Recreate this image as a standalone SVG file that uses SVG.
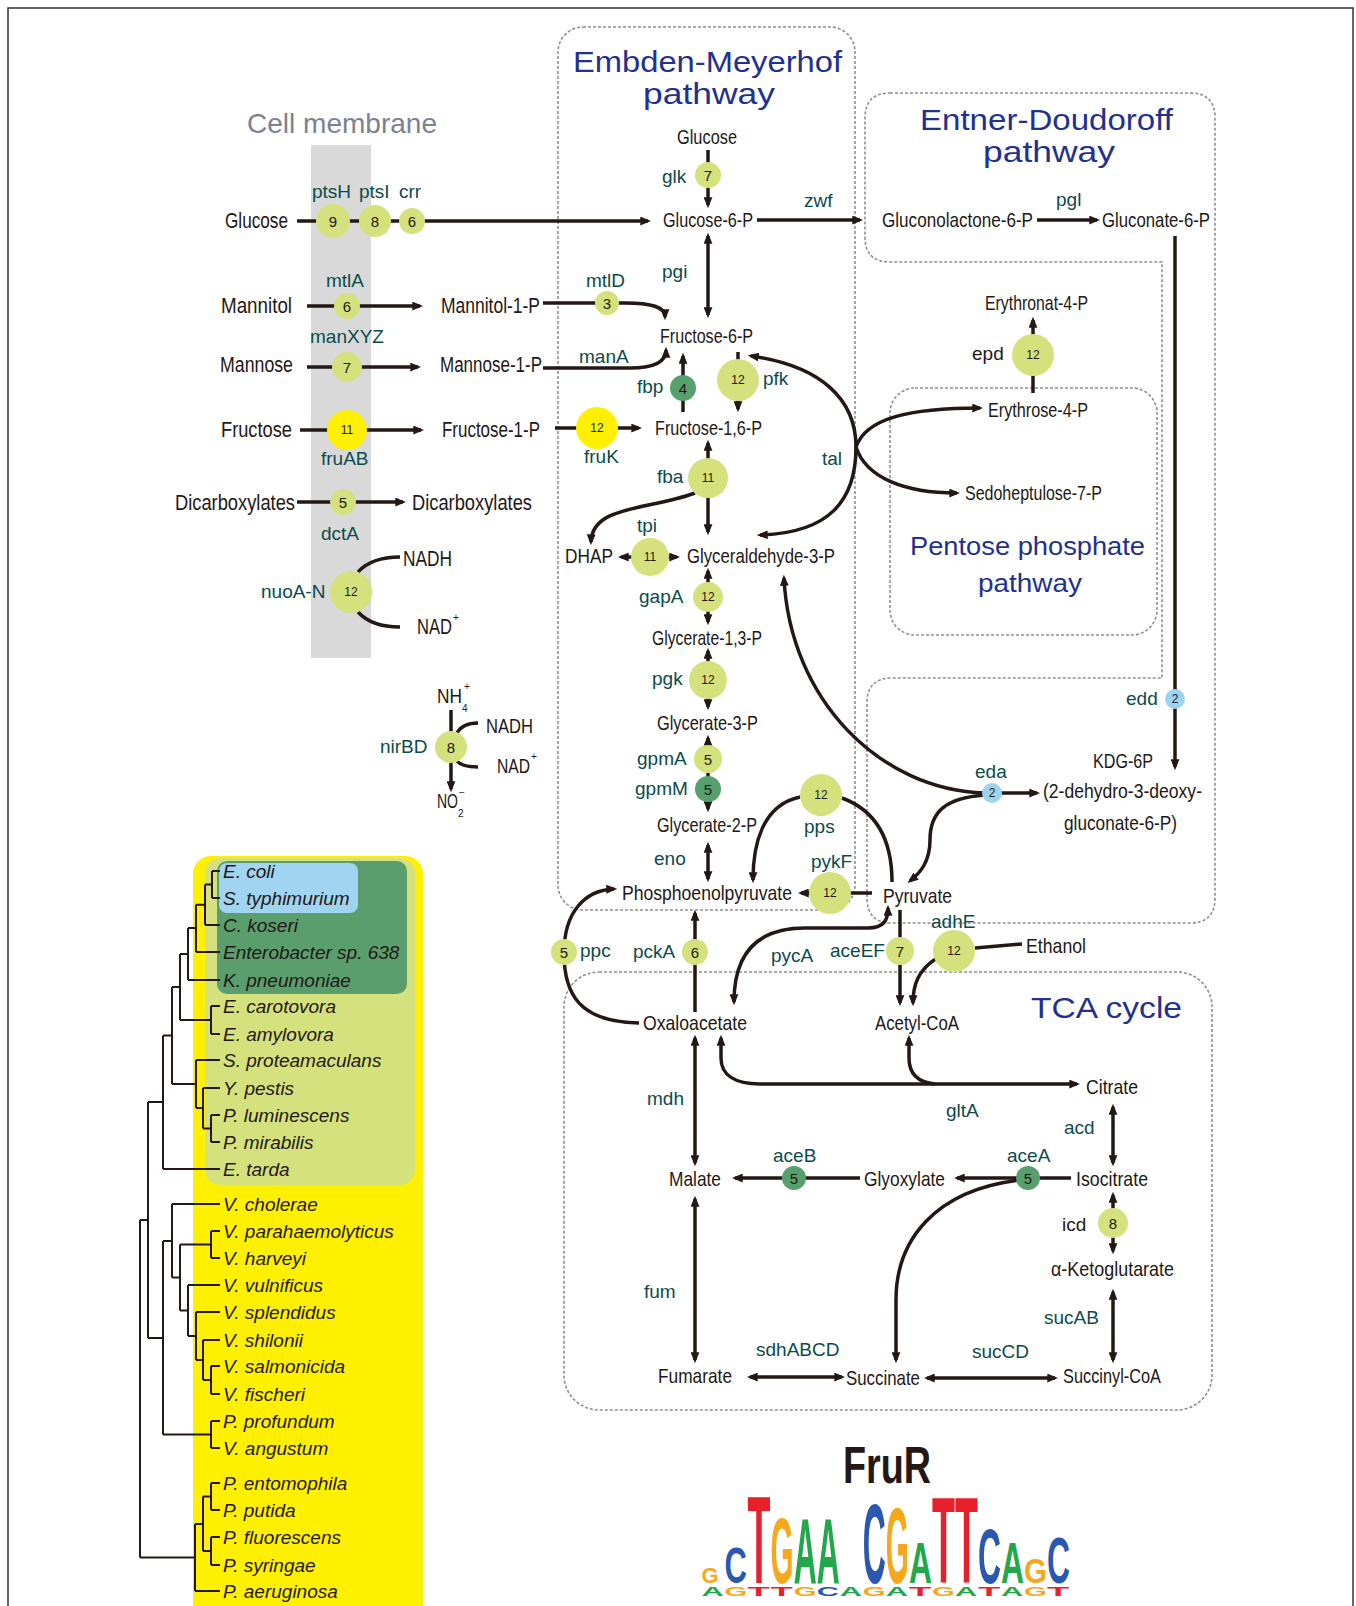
<svg xmlns="http://www.w3.org/2000/svg" width="1356" height="1606" viewBox="0 0 1356 1606">
<style>
.m{font-family:"Liberation Sans",Arial,sans-serif;font-size:21px;fill:#231815}
.ml{font-family:"Liberation Sans",Arial,sans-serif;font-size:22px;fill:#231815}
.sm{font-family:"Liberation Sans",Arial,sans-serif;font-size:10px;fill:#231815}
.g{font-family:"Liberation Sans",Arial,sans-serif;font-size:19px;fill:#0c4b4b}
.gk{font-family:"Liberation Sans",Arial,sans-serif;font-size:19px;fill:#231815}
.t{font-family:"Liberation Sans",Arial,sans-serif;fill:#22308e}
.sp{font-family:"Liberation Sans",Arial,sans-serif;font-style:italic;font-size:19px;fill:#231815}
.n{font-family:"Liberation Sans",Arial,sans-serif;font-size:15px;text-anchor:middle;fill:#231815}
.n2{font-family:"Liberation Sans",Arial,sans-serif;font-size:12px;text-anchor:middle;fill:#231815}
.lg{fill:#d5e17c}.yl{fill:#fff000}.dg{fill:#55a06c}.bl{fill:#9bd3f0}
.box{fill:none;stroke:#8f8f8f;stroke-width:1.6;stroke-dasharray:3 2}
.c{fill:none;stroke:#231815;stroke-width:3.5}
.a{marker-end:url(#ah)}
.b{marker-start:url(#ah);marker-end:url(#ah)}
.tr{fill:none;stroke:#231815;stroke-width:2}
.lo{font-family:"Liberation Sans",Arial,sans-serif;font-weight:bold;font-size:20px}
.ls{font-family:"Liberation Sans",Arial,sans-serif;font-weight:bold;font-size:14px}
.lT{fill:#e8202a}.lG{fill:#f6a71b}.lA{fill:#22a84a}.lC{fill:#2a57b0}
</style>
<defs>
<marker id="ah" viewBox="0 0 10 8" refX="7" refY="4" markerWidth="11" markerHeight="9" markerUnits="userSpaceOnUse" orient="auto-start-reverse"><path d="M0,0 L10,4 L0,8 z" fill="#231815"/></marker>
</defs>
<rect width="1356" height="1606" fill="#fff"/>
<rect x="8" y="8" width="1345" height="1620" fill="none" stroke="#333" stroke-width="1.5"/>

<!-- backgrounds -->
<rect x="311" y="145" width="60" height="513" fill="#d9d9d9"/>
<text class="t" x="247" y="133" font-size="28" textLength="190" lengthAdjust="spacingAndGlyphs" style="fill:#7d8190">Cell membrane</text>

<g id="emp-box">
<rect class="box" x="558" y="27" width="297" height="883" rx="25"/>
<text class="t" x="573" y="72" font-size="29" textLength="269" lengthAdjust="spacingAndGlyphs">Embden-Meyerhof</text>
<text class="t" x="643" y="104" font-size="29" textLength="132" lengthAdjust="spacingAndGlyphs">pathway</text>
</g>
<g id="ed-box">
<path class="box" d="M890,93 H1190 Q1215,93 1215,118 V898 Q1215,923 1190,923 H892 Q867,923 867,898 V703 Q867,678 892,678 H1162 V262 H890 Q865,262 865,237 V118 Q865,93 890,93 Z"/>
<text class="t" x="920" y="130" font-size="29" textLength="253" lengthAdjust="spacingAndGlyphs">Entner-Doudoroff</text>
<text class="t" x="983" y="162" font-size="29" textLength="132" lengthAdjust="spacingAndGlyphs">pathway</text>
</g>
<g id="ppp-box">
<rect class="box" x="890" y="388" width="267" height="247" rx="25"/>
<text class="t" x="910" y="555" font-size="26" textLength="235" lengthAdjust="spacingAndGlyphs">Pentose phosphate</text>
<text class="t" x="978" y="592" font-size="26" textLength="104" lengthAdjust="spacingAndGlyphs">pathway</text>
</g>
<g id="tca-box">
<rect class="box" x="564" y="972" width="648" height="438" rx="35"/>
<text class="t" x="1031" y="1018" font-size="30" textLength="151" lengthAdjust="spacingAndGlyphs">TCA cycle</text>
</g>

<!-- connectors -->
<g id="connectors">
<path class="c a" d="M297,221 H648"/>
<path class="c a" d="M708,150 V205"/>
<path class="c a" d="M757,220 H860"/>
<path class="c b" d="M708,236 V315"/>
<path class="c a" d="M307,306 H420"/>
<path class="c a" d="M307,367 H418"/>
<path class="c a" d="M300,430 H421"/>
<path class="c a" d="M297,502 H403"/>
<path class="c a" d="M543,303 H625 C652,303 665,307 665,317"/>
<path class="c a" d="M543,368 H630 C655,368 666,362 666,350"/>
<path class="c a" d="M683,412 V356"/>
<path class="c a" d="M738,352 V409"/>
<path class="c a" d="M555,428 H639"/>
<path class="c b" d="M708,443 V532"/>
<path class="c a" d="M695,493 C650,510 592,505 591,542"/>
<path class="c b" d="M621,557 H677"/>
<path class="c b" d="M760,535 C830,533 856,500 856,447 C856,400 822,366 751,356"/>
<path class="c a" d="M856,447 C866,418 910,408 980,408"/>
<path class="c a" d="M856,447 C866,478 905,493 957,493"/>
<path class="c a" d="M1033,393 V320"/>
<path class="c a" d="M1037,220 H1097"/>
<path class="c a" d="M1175,236 V767"/>
<path class="c a" d="M992,793 H1037"/>
<path class="c a" d="M985,793 C880,790 790,700 784,578"/>
<path class="c a" d="M985,795 C945,798 930,812 930,840 C930,862 920,873 910,881"/>
<path class="c b" d="M708,571 V622"/>
<path class="c b" d="M708,651 V707"/>
<path class="c b" d="M708,738 V809"/>
<path class="c b" d="M708,845 V879"/>
<path class="c a" d="M800,797 C762,805 753,845 753,880"/>
<path class="c" d="M842,798 C880,812 892,845 892,882"/>
<path class="c a" d="M872,893 H801"/>
<path class="c a" d="M639,1023 C580,1022 564,995 564,953 C564,912 585,890 614,889"/>
<path class="c a" d="M695,1012 V913"/>
<path class="c b" d="M734,1002 C734,950 760,928 805,928 H868 C884,928 888,920 888,908"/>
<path class="c a" d="M900,910 V1003"/>
<path class="c" d="M1022,944 L975,948"/>
<path class="c a" d="M937,958 C918,970 913,985 913,1003"/>
<path class="c b" d="M721,1038 V1058 C721,1075 735,1084 760,1084 H1077"/>
<path class="c a" d="M935,1084 C914,1082 909,1070 909,1058 V1038"/>
<path class="c b" d="M695,1038 V1163"/>
<path class="c b" d="M1113,1107 V1163"/>
<path class="c a" d="M1071,1178 H957"/>
<path class="c a" d="M860,1178 H735"/>
<path class="c a" d="M1020,1180 C935,1190 896,1240 896,1300 V1360"/>
<path class="c b" d="M1113,1195 V1251"/>
<path class="c b" d="M695,1199 V1360"/>
<path class="c b" d="M750,1377 H842"/>
<path class="c b" d="M927,1378 H1055"/>
<path class="c b" d="M1113,1292 V1360"/>
<path class="c" stroke-width="4" d="M358,572 C368,561 383,557 400,557"/>
<path class="c" stroke-width="4" d="M358,612 C368,623 383,627 400,627"/>
<path class="c a" d="M451,710 V789"/>
<path class="c" d="M457,733 C461,726 469,723 478,723"/>
<path class="c" d="M457,761 C461,766 469,767 478,767"/>
</g>

<!-- metabolites -->
<g id="glucose-ext"><text class="ml" x="225" y="228" textLength="63" lengthAdjust="spacingAndGlyphs">Glucose</text></g>
<g id="mannitol"><text class="ml" x="221" y="313" textLength="71" lengthAdjust="spacingAndGlyphs">Mannitol</text></g>
<g id="mannitol-1-p"><text class="ml" x="441" y="313" textLength="99" lengthAdjust="spacingAndGlyphs">Mannitol-1-P</text></g>
<g id="mannose"><text class="ml" x="220" y="372" textLength="73" lengthAdjust="spacingAndGlyphs">Mannose</text></g>
<g id="mannose-1-p"><text class="ml" x="440" y="372" textLength="102" lengthAdjust="spacingAndGlyphs">Mannose-1-P</text></g>
<g id="fructose"><text class="ml" x="221" y="437" textLength="71" lengthAdjust="spacingAndGlyphs">Fructose</text></g>
<g id="fructose-1-p"><text class="ml" x="442" y="437" textLength="98" lengthAdjust="spacingAndGlyphs">Fructose-1-P</text></g>
<g id="dicarb-ext"><text class="ml" x="175" y="510" textLength="120" lengthAdjust="spacingAndGlyphs">Dicarboxylates</text></g>
<g id="dicarb-int"><text class="ml" x="412" y="510" textLength="120" lengthAdjust="spacingAndGlyphs">Dicarboxylates</text></g>
<g id="nuo-nadh"><text class="ml" x="403" y="566" textLength="49" lengthAdjust="spacingAndGlyphs">NADH</text></g>
<g id="nuo-nad"><text class="ml" x="417" y="634" textLength="35" lengthAdjust="spacingAndGlyphs">NAD</text><text class="sm" x="453" y="621">+</text></g>
<g id="nh4"><text class="m" x="437" y="703" textLength="25" lengthAdjust="spacingAndGlyphs">NH</text><text class="sm" x="462" y="712">4</text><text class="sm" x="464" y="690">+</text></g>
<g id="nir-nadh"><text class="m" x="486" y="733" textLength="47" lengthAdjust="spacingAndGlyphs">NADH</text></g>
<g id="nir-nad"><text class="m" x="497" y="773" textLength="33" lengthAdjust="spacingAndGlyphs">NAD</text><text class="sm" x="531" y="760">+</text></g>
<g id="no2"><text class="m" x="437" y="808" textLength="21" lengthAdjust="spacingAndGlyphs">NO</text><text class="sm" x="458" y="817">2</text><text class="sm" x="459" y="796" font-size="13">−</text></g>

<g id="glucose"><text class="m" x="677" y="144" textLength="60" lengthAdjust="spacingAndGlyphs">Glucose</text></g>
<g id="glucose-6-p"><text class="m" x="663" y="227" textLength="90" lengthAdjust="spacingAndGlyphs">Glucose-6-P</text></g>
<g id="fructose-6-p"><text class="m" x="660" y="343" textLength="93" lengthAdjust="spacingAndGlyphs">Fructose-6-P</text></g>
<g id="fructose-16-p"><text class="m" x="655" y="435" textLength="107" lengthAdjust="spacingAndGlyphs">Fructose-1,6-P</text></g>
<g id="dhap"><text class="m" x="565" y="563" textLength="48" lengthAdjust="spacingAndGlyphs">DHAP</text></g>
<g id="gap"><text class="m" x="687" y="563" textLength="148" lengthAdjust="spacingAndGlyphs">Glyceraldehyde-3-P</text></g>
<g id="g13p"><text class="m" x="652" y="645" textLength="110" lengthAdjust="spacingAndGlyphs">Glycerate-1,3-P</text></g>
<g id="g3p"><text class="m" x="657" y="730" textLength="101" lengthAdjust="spacingAndGlyphs">Glycerate-3-P</text></g>
<g id="g2p"><text class="m" x="657" y="832" textLength="100" lengthAdjust="spacingAndGlyphs">Glycerate-2-P</text></g>
<g id="pep"><text class="m" x="622" y="900" textLength="170" lengthAdjust="spacingAndGlyphs">Phosphoenolpyruvate</text></g>
<g id="pyruvate"><text class="m" x="883" y="903" textLength="69" lengthAdjust="spacingAndGlyphs">Pyruvate</text></g>
<g id="gluconolactone"><text class="m" x="882" y="227" textLength="151" lengthAdjust="spacingAndGlyphs">Gluconolactone-6-P</text></g>
<g id="gluconate"><text class="m" x="1102" y="227" textLength="108" lengthAdjust="spacingAndGlyphs">Gluconate-6-P</text></g>
<g id="erythronat"><text class="m" x="985" y="310" textLength="103" lengthAdjust="spacingAndGlyphs">Erythronat-4-P</text></g>
<g id="erythrose"><text class="m" x="988" y="417" textLength="100" lengthAdjust="spacingAndGlyphs">Erythrose-4-P</text></g>
<g id="sedoheptulose"><text class="m" x="965" y="500" textLength="137" lengthAdjust="spacingAndGlyphs">Sedoheptulose-7-P</text></g>
<g id="kdg"><text class="m" x="1093" y="768" textLength="60" lengthAdjust="spacingAndGlyphs">KDG-6P</text>
<text class="m" x="1043" y="798" textLength="159" lengthAdjust="spacingAndGlyphs">(2-dehydro-3-deoxy-</text>
<text class="m" x="1064" y="830" textLength="113" lengthAdjust="spacingAndGlyphs">gluconate-6-P)</text></g>
<g id="oxaloacetate"><text class="m" x="643" y="1030" textLength="104" lengthAdjust="spacingAndGlyphs">Oxaloacetate</text></g>
<g id="acetyl-coa"><text class="m" x="875" y="1030" textLength="84" lengthAdjust="spacingAndGlyphs">Acetyl-CoA</text></g>
<g id="ethanol"><text class="m" x="1026" y="953" textLength="60" lengthAdjust="spacingAndGlyphs">Ethanol</text></g>
<g id="citrate"><text class="m" x="1086" y="1094" textLength="52" lengthAdjust="spacingAndGlyphs">Citrate</text></g>
<g id="isocitrate"><text class="m" x="1076" y="1186" textLength="72" lengthAdjust="spacingAndGlyphs">Isocitrate</text></g>
<g id="glyoxylate"><text class="m" x="864" y="1186" textLength="81" lengthAdjust="spacingAndGlyphs">Glyoxylate</text></g>
<g id="malate"><text class="m" x="669" y="1186" textLength="52" lengthAdjust="spacingAndGlyphs">Malate</text></g>
<g id="akg"><text class="m" x="1051" y="1276" textLength="123" lengthAdjust="spacingAndGlyphs">α-Ketoglutarate</text></g>
<g id="fumarate"><text class="m" x="658" y="1383" textLength="74" lengthAdjust="spacingAndGlyphs">Fumarate</text></g>
<g id="succinate"><text class="m" x="846" y="1385" textLength="74" lengthAdjust="spacingAndGlyphs">Succinate</text></g>
<g id="succinyl-coa"><text class="m" x="1063" y="1383" textLength="98" lengthAdjust="spacingAndGlyphs">Succinyl-CoA</text></g>

<!-- enzymes -->
<g id="ptsH"><circle class="lg" cx="333" cy="221" r="17"/><text class="n" x="333" y="227">9</text><text class="g" x="312" y="198">ptsH</text></g>
<g id="ptsI"><circle class="lg" cx="375" cy="221" r="16"/><text class="n" x="375" y="227">8</text><text class="g" x="359" y="198">ptsI</text></g>
<g id="crr"><circle class="lg" cx="412" cy="221" r="13"/><text class="n" x="412" y="227">6</text><text class="g" x="399" y="198">crr</text></g>
<g id="mtlA"><circle class="lg" cx="347" cy="306" r="13"/><text class="n" x="347" y="312">6</text><text class="g" x="326" y="287">mtlA</text></g>
<g id="manXYZ"><circle class="lg" cx="347" cy="367" r="15"/><text class="n" x="347" y="373">7</text><text class="g" x="310" y="343">manXYZ</text></g>
<g id="fruAB"><circle class="yl" cx="347" cy="430" r="20"/><text class="n2" x="347" y="434">11</text><text class="g" x="321" y="465">fruAB</text></g>
<g id="dctA"><circle class="lg" cx="343" cy="502" r="13"/><text class="n" x="343" y="508">5</text><text class="g" x="321" y="540">dctA</text></g>
<g id="nuoA-N"><circle class="lg" cx="351" cy="592" r="21"/><text class="n2" x="351" y="596">12</text><text class="g" x="261" y="598">nuoA-N</text></g>
<g id="nirBD"><circle class="lg" cx="451" cy="747" r="16"/><text class="n" x="451" y="753">8</text><text class="g" x="380" y="753">nirBD</text></g>
<g id="glk"><circle class="lg" cx="708" cy="175" r="13"/><text class="n" x="708" y="181">7</text><text class="g" x="662" y="183">glk</text></g>
<g id="zwf"><text class="g" x="804" y="207">zwf</text></g>
<g id="pgi"><text class="g" x="662" y="278">pgi</text></g>
<g id="mtlD"><circle class="lg" cx="607" cy="303" r="12"/><text class="n" x="607" y="309">3</text><text class="g" x="586" y="287">mtlD</text></g>
<g id="manA"><text class="g" x="579" y="363">manA</text></g>
<g id="fbp"><circle class="dg" cx="683" cy="388" r="13"/><text class="n" x="683" y="394">4</text><text class="g" x="637" y="393">fbp</text></g>
<g id="pfk"><circle class="lg" cx="738" cy="380" r="21"/><text class="n2" x="738" y="384">12</text><text class="g" x="763" y="385">pfk</text></g>
<g id="fruK"><circle class="yl" cx="597" cy="428" r="21"/><text class="n2" x="597" y="432">12</text><text class="g" x="584" y="463">fruK</text></g>
<g id="fba"><circle class="lg" cx="708" cy="478" r="20"/><text class="n2" x="708" y="482">11</text><text class="g" x="657" y="483">fba</text></g>
<g id="tal"><text class="g" x="822" y="465">tal</text></g>
<g id="tpi"><circle class="lg" cx="650" cy="557" r="19"/><text class="n2" x="650" y="561">11</text><text class="g" x="637" y="532">tpi</text></g>
<g id="pgl"><text class="g" x="1056" y="206">pgl</text></g>
<g id="epd"><circle class="lg" cx="1033" cy="355" r="21"/><text class="n2" x="1033" y="359">12</text><text class="gk" x="972" y="360">epd</text></g>
<g id="gapA"><circle class="lg" cx="708" cy="597" r="15"/><text class="n2" x="708" y="601">12</text><text class="g" x="639" y="603">gapA</text></g>
<g id="pgk"><circle class="lg" cx="708" cy="680" r="19"/><text class="n2" x="708" y="684">12</text><text class="g" x="652" y="685">pgk</text></g>
<g id="gpmA"><circle class="lg" cx="708" cy="759" r="14"/><text class="n" x="708" y="765">5</text><text class="g" x="637" y="765">gpmA</text></g>
<g id="gpmM"><circle class="dg" cx="708" cy="789" r="13"/><text class="n" x="708" y="795">5</text><text class="g" x="635" y="795">gpmM</text></g>
<g id="eno"><text class="g" x="654" y="865">eno</text></g>
<g id="pps"><circle class="lg" cx="821" cy="795" r="21"/><text class="n2" x="821" y="799">12</text><text class="g" x="804" y="833">pps</text></g>
<g id="pykF"><circle class="lg" cx="830" cy="893" r="21"/><text class="n2" x="830" y="897">12</text><text class="g" x="811" y="868">pykF</text></g>
<g id="edd"><circle class="bl" cx="1175" cy="699" r="10"/><text class="n2" x="1175" y="703">2</text><text class="g" x="1126" y="705">edd</text></g>
<g id="eda"><circle class="bl" cx="992" cy="793" r="10"/><text class="n2" x="992" y="797">2</text><text class="g" x="975" y="778">eda</text></g>
<g id="ppc"><circle class="lg" cx="564" cy="952" r="13"/><text class="n" x="564" y="958">5</text><text class="g" x="580" y="957">ppc</text></g>
<g id="pckA"><circle class="lg" cx="695" cy="952" r="13"/><text class="n" x="695" y="958">6</text><text class="g" x="633" y="958">pckA</text></g>
<g id="pycA"><text class="g" x="771" y="962">pycA</text></g>
<g id="aceEF"><circle class="lg" cx="900" cy="951" r="14"/><text class="n" x="900" y="957">7</text><text class="g" x="830" y="957">aceEF</text></g>
<g id="adhE"><circle class="lg" cx="954" cy="951" r="21"/><text class="n2" x="954" y="955">12</text><text class="g" x="931" y="928">adhE</text></g>
<g id="mdh"><text class="g" x="647" y="1105">mdh</text></g>
<g id="gltA"><text class="g" x="946" y="1117">gltA</text></g>
<g id="acd"><text class="g" x="1064" y="1134">acd</text></g>
<g id="aceB"><circle class="dg" cx="794" cy="1178" r="12"/><text class="n" x="794" y="1184">5</text><text class="g" x="773" y="1162">aceB</text></g>
<g id="aceA"><circle class="dg" cx="1028" cy="1178" r="12"/><text class="n" x="1028" y="1184">5</text><text class="g" x="1007" y="1162">aceA</text></g>
<g id="icd"><circle class="lg" cx="1113" cy="1223" r="15"/><text class="n" x="1113" y="1229">8</text><text class="gk" x="1062" y="1231">icd</text></g>
<g id="fum"><text class="g" x="644" y="1298">fum</text></g>
<g id="sdhABCD"><text class="g" x="756" y="1356">sdhABCD</text></g>
<g id="sucCD"><text class="g" x="972" y="1358">sucCD</text></g>
<g id="sucAB"><text class="g" x="1044" y="1324">sucAB</text></g>

<!-- phylogeny -->
<g id="tree">
<rect x="193" y="856" width="230" height="780" rx="18" fill="#fff000"/>
<rect x="205" y="858" width="210" height="327" rx="15" fill="#d5e17c"/>
<rect x="217" y="861" width="190" height="133" rx="10" fill="#5a9e6e"/>
<rect x="219" y="863" width="139" height="50" rx="8" fill="#a0d4f0"/>
<path class="tr" d="M212,871 H220 M212,898 H220 M212,871 V898 M205,884.5 H212
M205,884.5 V925 M205,925 H220 M196,904.75 H205
M196,904.75 V952 M196,952 H220 M188,928 H196
M188,928 V980 M188,980 H220 M180,954 H188
M211,1006 V1034 M211,1006 H220 M211,1034 H220 M180,1020 H211
M180,954 V1020 M172,987 H180
M211,1115 V1142 M211,1115 H220 M211,1142 H220 M203,1128.5 H211
M203,1088 V1128.5 M203,1088 H220 M196,1108 H203
M196,1060 V1108 M196,1060 H220 M172,1084 H196
M172,987 V1084 M163,1035.5 H172
M163,1035.5 V1169 M163,1169 H220 M148,1102 H163
M172,1204 H220 M211,1231 V1258 M211,1231 H220 M211,1258 H220 M180,1244.5 H211
M211,1366 V1394 M211,1366 H220 M211,1394 H220 M203,1380 H211
M203,1340 V1380 M203,1340 H220 M196,1360 H203
M196,1312 V1360 M196,1312 H220 M188,1336 H196
M188,1285 V1336 M188,1285 H220 M180,1310.5 H188
M180,1244.5 V1310.5 M172,1277.5 H180
M172,1204 V1277.5 M163,1241 H172
M211,1421 V1448 M211,1421 H220 M211,1448 H220 M163,1434.5 H211
M163,1241 V1434.5 M148,1338 H163
M148,1102 V1338 M140,1220 H148
M211,1483 V1510 M211,1483 H220 M211,1510 H220 M203,1496.5 H211
M211,1537 V1565 M211,1537 H220 M211,1565 H220 M203,1551 H211
M203,1496.5 V1551 M195,1524 H203
M195,1524 V1591 M195,1591 H220 M140,1557.5 H195
M140,1220 V1557.5"/>
<text class="sp" x="223" y="878">E. coli</text>
<text class="sp" x="223" y="905">S. typhimurium</text>
<text class="sp" x="223" y="932">C. koseri</text>
<text class="sp" x="223" y="959">Enterobacter sp. 638</text>
<text class="sp" x="223" y="987">K. pneumoniae</text>
<text class="sp" x="223" y="1013">E. carotovora</text>
<text class="sp" x="223" y="1041">E. amylovora</text>
<text class="sp" x="223" y="1067">S. proteamaculans</text>
<text class="sp" x="223" y="1095">Y. pestis</text>
<text class="sp" x="223" y="1122">P. luminescens</text>
<text class="sp" x="223" y="1149">P. mirabilis</text>
<text class="sp" x="223" y="1176">E. tarda</text>
<text class="sp" x="223" y="1211">V. cholerae</text>
<text class="sp" x="223" y="1238">V. parahaemolyticus</text>
<text class="sp" x="223" y="1265">V. harveyi</text>
<text class="sp" x="223" y="1292">V. vulnificus</text>
<text class="sp" x="223" y="1319">V. splendidus</text>
<text class="sp" x="223" y="1347">V. shilonii</text>
<text class="sp" x="223" y="1373">V. salmonicida</text>
<text class="sp" x="223" y="1401">V. fischeri</text>
<text class="sp" x="223" y="1428">P. profundum</text>
<text class="sp" x="223" y="1455">V. angustum</text>
<text class="sp" x="223" y="1490">P. entomophila</text>
<text class="sp" x="223" y="1517">P. putida</text>
<text class="sp" x="223" y="1544">P. fluorescens</text>
<text class="sp" x="223" y="1572">P. syringae</text>
<text class="sp" x="223" y="1598">P. aeruginosa</text>
</g>

<!-- logo -->
<g id="fruR-logo">
<text x="843" y="1483" font-family="Liberation Sans,Arial,sans-serif" font-weight="bold" font-size="52" fill="#231815" textLength="88" lengthAdjust="spacingAndGlyphs">FruR</text>
<text class="lo lG" transform="translate(701.5,1583) scale(1.1,1.1)">G</text>
<text class="lo lC" transform="translate(724.5,1583) scale(1.55,2.5)">C</text>
<text class="lo lT" transform="translate(747.6,1583) scale(1.88,6.2)">T</text>
<text class="lo lG" transform="translate(770.6,1583) scale(1.48,4.65)">G</text>
<text class="lo lA" transform="translate(793.7,1583) scale(1.59,4.65)">A</text>
<text class="lo lA" transform="translate(816.7,1583) scale(1.59,4.65)">A</text>
<text class="lo lC" transform="translate(862.8,1583) scale(1.59,5.7)">C</text>
<text class="lo lG" transform="translate(885.8,1583) scale(1.48,5.35)">G</text>
<text class="lo lA" transform="translate(908.9,1583) scale(1.59,2.85)">A</text>
<text class="lo lT" transform="translate(931.9,1583) scale(1.88,6.1)">T</text>
<text class="lo lT" transform="translate(954.9,1583) scale(1.88,6.1)">T</text>
<text class="lo lC" transform="translate(978,1583) scale(1.59,3.9)">C</text>
<text class="lo lA" transform="translate(1001,1583) scale(1.59,2.85)">A</text>
<text class="lo lG" transform="translate(1024,1583) scale(1.48,1.75)">G</text>
<text class="lo lC" transform="translate(1047,1583) scale(1.59,3.2)">C</text>
<text class="ls lA" transform="translate(701.5,1596) scale(2.2,0.85)">A</text>
<text class="ls lG" transform="translate(724.5,1596) scale(2.1,0.85)">G</text>
<text class="ls lT" transform="translate(747.6,1596) scale(2.6,0.85)">T</text>
<text class="ls lT" transform="translate(770.6,1596) scale(2.6,0.85)">T</text>
<text class="ls lG" transform="translate(793.7,1596) scale(2.1,0.85)">G</text>
<text class="ls lC" transform="translate(816.7,1596) scale(2.2,0.85)">C</text>
<text class="ls lA" transform="translate(839.7,1596) scale(2.2,0.85)">A</text>
<text class="ls lG" transform="translate(862.8,1596) scale(2.1,0.85)">G</text>
<text class="ls lA" transform="translate(885.8,1596) scale(2.2,0.85)">A</text>
<text class="ls lT" transform="translate(908.9,1596) scale(2.6,0.85)">T</text>
<text class="ls lG" transform="translate(931.9,1596) scale(2.1,0.85)">G</text>
<text class="ls lA" transform="translate(954.9,1596) scale(2.2,0.85)">A</text>
<text class="ls lT" transform="translate(978,1596) scale(2.6,0.85)">T</text>
<text class="ls lA" transform="translate(1001,1596) scale(2.2,0.85)">A</text>
<text class="ls lG" transform="translate(1024,1596) scale(2.1,0.85)">G</text>
<text class="ls lT" transform="translate(1047,1596) scale(2.6,0.85)">T</text>
</g>
</svg>
